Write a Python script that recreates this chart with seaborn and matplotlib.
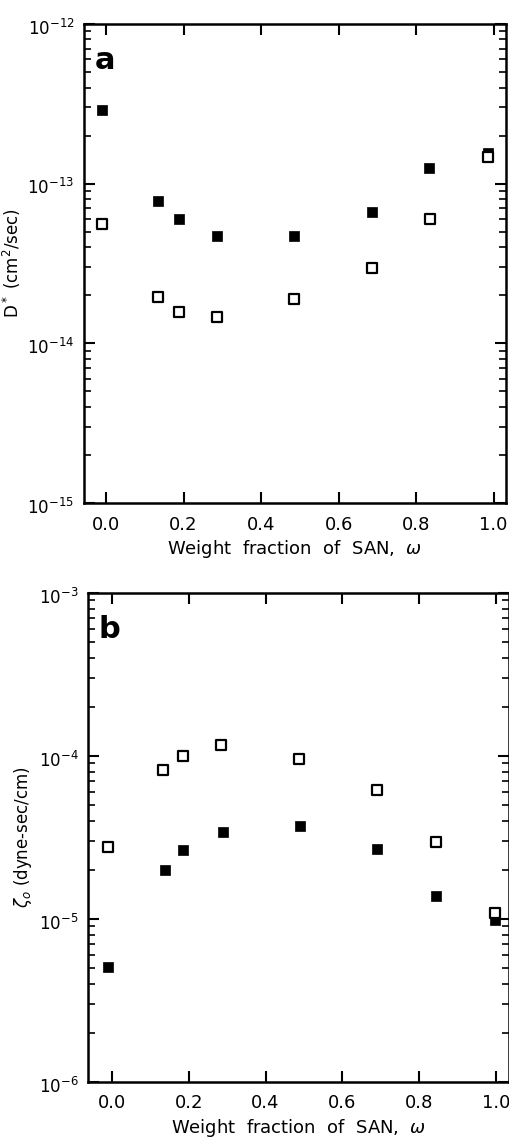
import numpy as np
import pandas as pd
import matplotlib
matplotlib.use("Agg")
import matplotlib.pyplot as plt
import matplotlib.ticker as mticker
import matplotlib.transforms as mtransforms
import seaborn as sns

# ---- data ----
wa_filled = [-0.01, 0.135, 0.187, 0.285, 0.484, 0.685, 0.834, 0.985]
Da_filled = [2.9e-13, 7.8e-14, 6.0e-14, 4.7e-14, 4.7e-14, 6.6e-14, 1.26e-13, 1.55e-13]
wa_open = [-0.01, 0.135, 0.187, 0.287, 0.486, 0.687, 0.835, 0.985]
Da_open = [5.6e-14, 1.94e-14, 1.56e-14, 1.46e-14, 1.9e-14, 2.95e-14, 6.0e-14, 1.47e-13]

wb_filled = [-0.01, 0.137, 0.186, 0.289, 0.49, 0.69, 0.845, 0.998]
Zb_filled = [5.1e-6, 2.0e-5, 2.65e-5, 3.4e-5, 3.7e-5, 2.7e-5, 1.38e-5, 9.8e-6]
wb_open = [-0.01, 0.134, 0.186, 0.285, 0.487, 0.689, 0.844, 0.998]
Zb_open = [2.75e-5, 8.2e-5, 1.0e-4, 1.17e-4, 9.6e-5, 6.2e-5, 2.96e-5, 1.09e-5]

xticks = [0.0, 0.2, 0.4, 0.6, 0.8, 1.0]
xticklabels = ["0.0", "0.2", "0.4", "0.6", "0.8", "1.0"]
yticks_a = [1e-15, 1e-14, 1e-13, 1e-12]
yticks_b = [1e-6, 1e-5, 1e-4, 1e-3]

sns.set_style("ticks")
plt.rcParams['font.family'] = ['DejaVu Sans']
plt.rcParams['mathtext.fontset'] = 'dejavusans'
plt.rcParams['text.color'] = 'black'
plt.rcParams['axes.labelcolor'] = 'black'
plt.rcParams['xtick.color'] = 'black'
plt.rcParams['ytick.color'] = 'black'

fig = plt.figure(figsize=(5.10, 11.38), dpi=100)
axa = fig.add_axes([84/510, 1 - 503/1138, (506-84)/510, (503-24)/1138])
axb = fig.add_axes([88/510, 1 - 1082/1138, (509-88)/510, (1082-593)/1138])

def draw(ax, xf, yf, xo, yo):
    df_f = pd.DataFrame({"w": xf, "v": yf})
    df_o = pd.DataFrame({"w": xo, "v": yo})
    sns.scatterplot(data=df_o, x="w", y="v", ax=ax, marker="s", s=55,
                    facecolor="white", edgecolor="black", linewidth=1.6, zorder=3)
    sns.scatterplot(data=df_f, x="w", y="v", ax=ax, marker="s", s=60,
                    color="black", edgecolor="black", linewidth=0.5, zorder=2)

draw(axa, wa_filled, Da_filled, wa_open, Da_open)
draw(axb, wb_filled, Zb_filled, wb_open, Zb_open)

def style(ax, xlim, yticks):
    ax.set_yscale("log")
    ax.set_xlim(*xlim)
    ax.set_ylim(yticks[0], yticks[-1])
    ax.set_xticks(xticks)
    ax.set_xticklabels(xticklabels)
    ax.yaxis.set_major_locator(mticker.FixedLocator(yticks))
    ax.yaxis.set_major_formatter(mticker.LogFormatterSciNotation())
    minors = [m * t for t in yticks[:-1] for m in range(2, 10)]
    ax.yaxis.set_minor_locator(mticker.FixedLocator(minors))
    ax.yaxis.set_minor_formatter(mticker.NullFormatter())
    ax.tick_params(axis="x", which="major", direction="in", length=8, width=1.5,
                   top=True, labelsize=13, pad=9)
    ax.tick_params(axis="y", which="major", direction="in", length=8, width=1.5,
                   right=True, labelsize=12, pad=7)
    ax.tick_params(axis="y", which="minor", direction="in", length=5, width=1.2,
                   left=True, right=True)
    ax.tick_params(axis="x", which="minor", bottom=False, top=False)
    for s in ax.spines.values():
        s.set_visible(True)
        s.set_linewidth(1.8)
        s.set_color("black")
    ax.set_xlabel("Weight  fraction  of  SAN,  $\\omega$", fontsize=13, labelpad=3)
    off = mtransforms.ScaledTranslation(0, -2/72, fig.dpi_scale_trans)
    for lbl in ax.get_yticklabels():
        lbl.set_transform(lbl.get_transform() + off)

style(axa, (-0.057, 1.032), yticks_a)
style(axb, (-0.0625, 1.034), yticks_b)

axa.set_ylabel("D$^*$ (cm$^2$/sec)", fontsize=12, labelpad=3)
axb.set_ylabel("$\\zeta_o$ (dyne-sec/cm)", fontsize=12, labelpad=3)

axa.text(0.025, 0.955, "a", transform=axa.transAxes, fontsize=22, fontweight="bold",
         ha="left", va="top")
axb.text(0.025, 0.955, "b", transform=axb.transAxes, fontsize=22, fontweight="bold",
         ha="left", va="top")

fig.savefig("out.png", dpi=100)
